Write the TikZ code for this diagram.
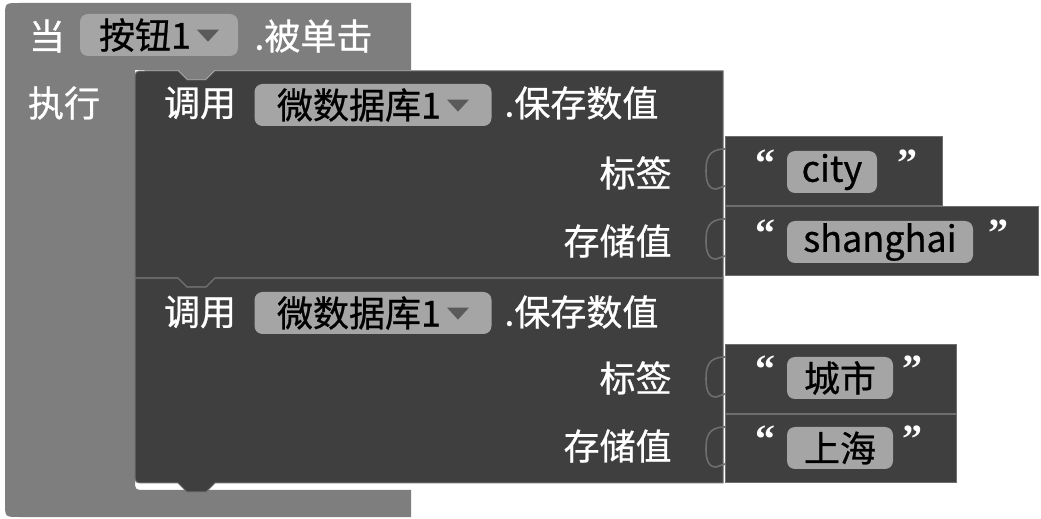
\documentclass[tikz,border=0pt]{standalone}
\usepackage{fontspec}
\setmainfont{Noto Sans CJK SC}[FakeBold=0.7]
\newfontfamily\quotefont{Liberation Serif}
\usetikzlibrary{positioning}

\definecolor{eventgray}{HTML}{7E7E7E}
\definecolor{blockdark}{HTML}{3F3F3F}
\definecolor{pillgray}{HTML}{A5A5A5}
\definecolor{edgegray}{HTML}{6E6E6E}
\definecolor{trigray}{HTML}{5A5A5A}

% dropdown triangle inside a field
\newcommand\ddtri{\tikz[baseline=0pt,sharp corners]\fill[trigray] (0,9.5pt) -- (11pt,9.5pt) -- (5.5pt,3.5pt) -- cycle;}

\begin{document}
\begin{tikzpicture}[
  x=0.5pt, y=-0.5pt,
  blk/.style={fill=blockdark,draw=edgegray,line width=0.5pt},
  lbl/.style={text=white,inner sep=0pt,font=\fontsize{18pt}{20pt}\selectfont},
  pill/.style={fill=pillgray,rounded corners=4pt,text=black,inner sep=0pt,
    minimum height=21pt,font=\fontsize{18pt}{20pt}\selectfont},
  qmark/.style={text=white,inner sep=0pt,font=\quotefont\bfseries\fontsize{20pt}{22pt}\selectfont},
  tab/.style={draw=edgegray,line width=0.8pt}
]
  \useasboundingbox (0,0) rectangle (1041,519);

  % event block
  \fill[eventgray] (411,517) -- (19,517) .. controls (5,517) .. (5,503) -- (5,17)
    .. controls (5,3) .. (19,3) -- (411,3) -- (411,70) -- (215,70) -- (206,79)
    -- (187,79) -- (178,70) -- (135,70) -- (135,480) .. controls (135,490) .. (145,490)
    -- (411,490) -- cycle;

  % second call block
  \path[blk] (135,278) -- (135,473) .. controls (135,483) .. (145,483) -- (178,483)
    -- (187,492) -- (206,492) -- (215,483) -- (723,483) -- (723,278) -- cycle;
  % first call block
  \path[blk] (135,81) .. controls (135,71) .. (145,71) -- (178,71) -- (187,80)
    -- (206,80) -- (215,71) -- (723,71) -- (723,278) -- (215,278) -- (206,287)
    -- (187,287) -- (178,278) -- (135,278) -- cycle;
  \draw[edgegray,line width=0.7pt] (135,278) -- (178,278) -- (187,287) -- (206,287)
    -- (215,278) -- (723,278);

  % text blocks
  \path[blk] (725,137) rectangle (942,206);
  \path[blk] (725,207) rectangle (1038,276);
  \path[blk] (725,345) rectangle (956,414);
  \path[blk] (725,415) rectangle (956,483);
  \foreach \ty in {137,207,345,415}{
    \draw[tab] (725,\ty+12) .. controls (708,\ty+12) and (706,\ty+22) .. (706,\ty+34)
      .. controls (706,\ty+44) and (708,\ty+52) .. (716,\ty+52) -- (725,\ty+49);
  }

  % event header
  \node[lbl] (when) at (47,36) {当};
  \node[pill,minimum width=79pt] (button) at (159,35) {按钮1\,\ddtri};
  \node[lbl,anchor=west] (click) at (254,36) {.被单击};
  \node[lbl] (do) at (64,103) {执行};

  % first call
  \node[lbl] (callA) at (200,103) {调用};
  \node[pill,minimum width=118.5pt] (dbA) at (373,105) {微数据库1\,\ddtri};
  \node[lbl,anchor=west] (saveA) at (504,103) {.保存数值};
  \node[lbl,anchor=east] (tagA) at (672,173) {标签};
  \node[lbl,anchor=east] (valA) at (672,241) {存储值};
  \node[qmark] (oqA) at (765,163) {“};
  \node[pill,minimum width=45pt] (city) at (832,172) {city};
  \node[qmark] (cqA) at (907,163) {”};
  \node[qmark] (oqB) at (765,233) {“};
  \node[pill,minimum width=93pt] (sh) at (880,242) {shanghai};
  \node[qmark] (cqB) at (998,233) {”};

  % second call
  \node[lbl] (callB) at (200,312) {调用};
  \node[pill,minimum width=118.5pt] (dbB) at (373,313) {微数据库1\,\ddtri};
  \node[lbl,anchor=west] (saveB) at (504,312) {.保存数值};
  \node[lbl,anchor=east] (tagB) at (672,378) {标签};
  \node[lbl,anchor=east] (valB) at (672,446) {存储值};
  \node[qmark] (oqC) at (765,369) {“};
  \node[pill,minimum width=53pt] (chengshi) at (840,378) {城市};
  \node[qmark] (cqC) at (912,369) {”};
  \node[qmark] (oqD) at (765,439) {“};
  \node[pill,minimum width=53pt] (shanghai) at (840,448) {上海};
  \node[qmark] (cqD) at (912,439) {”};
\end{tikzpicture}
\end{document}
